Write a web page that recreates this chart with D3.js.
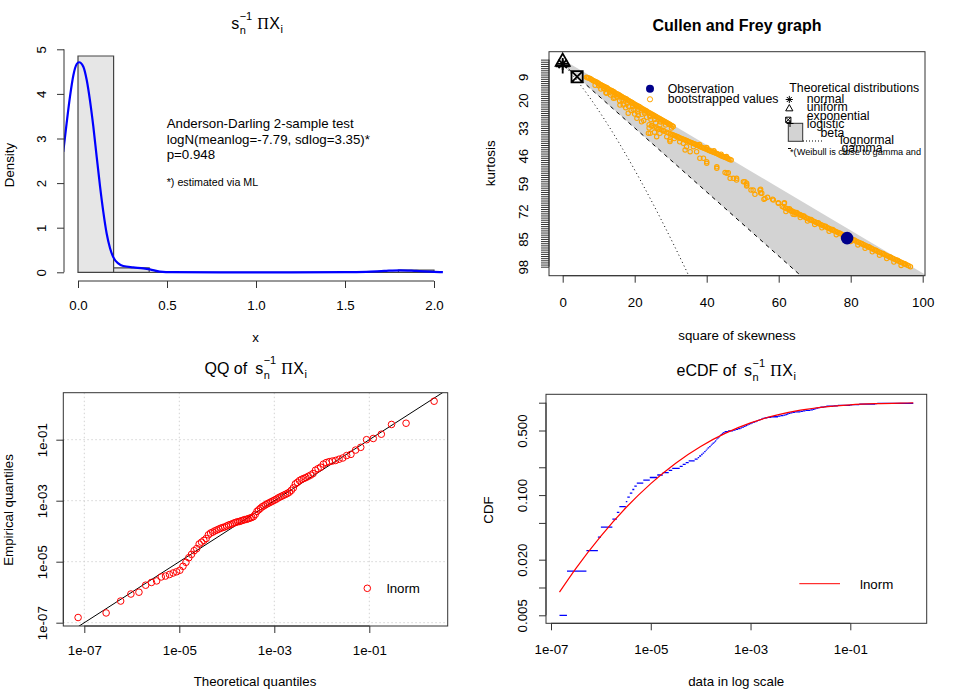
<!DOCTYPE html>
<html><head><meta charset="utf-8">
<script src="https://d3js.org/d3.v7.min.js"></script>
<style>body{margin:0;background:#fff}svg{display:block}</style>
</head><body>
<svg id="c" width="960" height="690"></svg>
<script>
// ================= DATA =================
// Panel 1: histogram + kernel density
const histBreaks = [0,0.2,0.4,0.6,0.8,1.0,1.2,1.4,1.6,1.8,2.0];
const histDensity = [4.85,0.10,0,0,0,0,0,0,0,0.05];
const densX = [-0.083,-0.064,-0.045,-0.026,-0.007,0.006,0.03,0.049,0.067,0.086,0.105,0.124,0.142,0.161,0.18,0.198,0.226,0.254,0.31,0.367,0.404,0.46,0.53,0.8,1.2,1.5,1.62,1.72,1.81,1.90,2.0,2.05];
const densY = [2.70,3.34,3.94,4.42,4.67,4.71,4.61,4.31,3.86,3.27,2.59,1.92,1.36,0.87,0.54,0.34,0.20,0.14,0.11,0.09,0.067,0.015,0.002,0,0,0.002,0.01,0.03,0.045,0.03,0.01,0.003];
const histXTicks = [0,0.5,1,1.5,2];
const histXLabels = ["0.0","0.5","1.0","1.5","2.0"];
const histYTicks = [0,1,2,3,4,5];
const gofLines = ["Anderson-Darling 2-sample test","logN(meanlog=-7.79, sdlog=3.35)*","p=0.948"];
const gofNote = "*) estimated via ML";

// Panel 2: Cullen and Frey
const cfXTicks = [0,20,40,60,80,100];
const cfYLabels = [9,20,33,46,59,72,85,98];
const cfYTickMin = 1, cfYTickMax = 98;
const obsPoint = [79.0, 84.6];
const normalPt = [0,3], uniformPt = [0,1.8], exponentialPt = [4,9], logisticPt = [0,4.2];
const betaLowerLine = [[0,1],[120,121]];
const gammaLine = [[0,3],[120,183]];
const lognormalLine = [[0,3],[0.465,3.838],[0.961,4.756],[2.048,6.85],[4.624,12.21],[7.776,19.43],[11.55,28.88],[16,41],[21.17,56.25],[27.10,75.11],[33.86,98.13],[36.05,105.9]];
const bootPoints = [
// upper streak
[6.6,9.3],[7.2,9.6],[7.9,10.2],[8.5,10.9],[9.1,11.3],[9.8,11.9],[10.4,12.6],[11.0,13.1],[11.7,13.8],[12.3,14.2],[12.9,15.0],[13.6,15.5],[14.2,16.1],[14.8,16.9],[15.5,17.3],[16.1,18.0],[16.7,18.7],[17.4,19.2],[18.0,19.9],[18.6,20.5],[19.3,21.1],[19.9,21.8],[20.5,22.4],[21.2,23.0],[21.8,23.7],[22.4,24.3],[23.1,24.9],[23.7,25.6],[24.3,26.1],[25.0,26.8],[25.6,27.4],[26.2,28.0],[26.9,28.6],[27.5,29.2],[28.1,29.8],[28.8,30.4],[29.4,31.0],[30.0,31.6],[30.7,32.3],
[6.9,9.5],[7.6,9.9],[8.2,10.6],[8.8,11.1],[9.5,11.6],[10.1,12.3],[10.7,12.9],[11.4,13.5],[12.0,14.0],[12.6,14.6],[13.3,15.3],[13.9,15.8],[14.5,16.5],[15.2,17.1],[15.8,17.7],[16.4,18.3],[17.1,19.0],[17.7,19.5],[18.3,20.2],[19.0,20.8],[19.6,21.5],[20.2,22.1],[20.9,22.7],[21.5,23.3],[22.1,24.0],[22.8,24.6],[23.4,25.2],[24.0,25.9],[24.7,26.5],[25.3,27.1],[25.9,27.7],[26.6,28.3],[27.2,28.9],[27.8,29.5],[28.5,30.1],[29.1,30.7],[29.7,31.3],[30.4,32.0],
[10.0,13.2],[11.5,14.6],[13.0,16.3],[14.0,17.5],[15.0,18.4],[16.5,19.8],[18.0,21.4],[19.5,23.0],[21.0,24.4],[22.7,26.0],[24.2,27.6],[25.5,29.0],[27.2,30.2],[28.6,31.6],[30.2,33.0],
[9.0,13.0],[10.6,14.8],[12.0,16.5],[13.3,17.6],[14.5,19.0],[15.8,20.3],[17.0,21.8],[18.3,22.9],[19.6,24.3],[20.8,25.5],[22.0,26.6],[23.3,28.0],[24.5,29.1],[25.8,30.6],[27.0,31.6],
// scattered
[11.3,14.4],[12.2,16.8],[14.1,19.1],[15.9,22.3],[16.8,22.3],[18.2,26.1],[20.6,28.5],[21.9,30.1],[23.8,35.5],[24.3,35.5],[26.1,37.1],[27.0,35.5],[28.9,37.1],[29.8,38.6],[29.8,39.4],[33.5,40.2],[34.0,43.3],[34.4,41.8],[35.4,44.1],[36.3,41.8],[37.2,44.1],[38.1,47.2],[39.1,47.2],[40.0,48.8],[40.0,49.6],[42.8,51.2],[42.8,51.9],[45.6,54.2],[46.5,56.6],[47.4,56.6],[48.3,57.4],[50.6,58.2],[51.1,58.9],[51.1,59.7],[52.9,62.1],[54.8,62.1],[55.3,63.6],[56.2,66.0],[58.5,66.8],[59.9,68.3],[61.5,68.3],
[45.1,53.9],[46.0,54.0],[48.3,56.6],[50.2,58.2],[51.1,60.2],[52.3,62.1],[53.4,64.1],[55.0,61.7],[55.0,63.5],[55.9,66.4],[56.9,65.5],[58.3,66.4],[59.9,68.0],[61.6,68.0],
[17.5,23.5],[19.0,24.8],[21.0,27.0],[22.5,29.5],[24.8,31.8],[26.5,33.5],[28.0,34.2],[31.0,38.0],[32.5,39.5],[24.0,33.0],[20.0,26.5],[25.5,35.0],
// middle streak
[24.0,31.5],[24.7,32.1],[25.4,32.6],[26.1,33.0],[26.8,33.5],[27.5,34.0],[28.2,34.5],[28.9,35.0],[29.5,35.4],
[30.0,35.8],[30.7,36.3],[31.4,36.8],[32.1,37.3],[32.8,37.8],[33.5,38.3],[34.2,38.8],[34.9,39.3],[35.6,39.8],[36.3,40.3],[37.0,40.8],[37.7,41.4],[38.4,41.9],[39.1,42.4],[39.8,42.9],[40.5,43.4],[41.2,43.9],[41.9,44.4],[42.6,44.9],[43.3,45.4],[44.0,46.0],[44.7,46.5],[45.4,47.0],[46.1,47.5],[46.8,48.0],
[30.35,36.05],[31.05,36.55],[31.75,37.05],[32.45,37.55],[33.15,38.05],[33.85,38.55],[34.55,39.05],[35.25,39.55],[35.95,40.05],[36.65,40.55],[37.35,41.1],[38.05,41.65],[38.75,42.15],[39.45,42.65],[40.15,43.15],[40.85,43.65],[41.55,44.15],[42.25,44.65],[42.95,45.15],[43.65,45.7],[44.35,46.25],[45.05,46.75],[45.75,47.25],[46.45,47.75],
[38.0,40.8],[40.0,42.2],[42.0,43.7],[44.0,45.3],[45.5,46.4],
// lower streak
[61.0,69.8],[61.9,70.5],[62.8,71.2],[63.7,71.9],[64.6,72.6],[65.5,73.3],[66.4,74.0],[67.3,74.8],[68.2,75.5],[69.1,76.2],[70.0,76.9],[70.9,77.6],[71.8,78.3],[72.7,79.0],[73.6,79.7],[74.5,80.5],[75.4,81.2],[76.3,81.9],[77.2,82.6],[78.1,83.3],[79.0,84.0],[79.9,84.8],[80.8,85.5],[81.7,86.2],[82.6,86.9],[83.5,87.6],[84.4,88.3],[85.3,89.0],[86.2,89.8],[87.1,90.5],[88.0,91.2],[88.9,91.9],[89.8,92.6],[90.7,93.3],[91.6,94.0],[92.5,94.8],[93.4,95.5],[94.3,96.2],[95.2,96.9],[96.1,97.6],[96.6,98.0],
[61.45,70.15],[62.35,70.85],[63.25,71.55],[64.15,72.25],[65.05,72.95],[65.95,73.65],[66.85,74.4],[67.75,75.15],[68.65,75.85],[69.55,76.55],[70.45,77.25],[71.35,77.95],[72.25,78.65],[73.15,79.35],[74.05,80.1],[74.95,80.85],[75.85,81.55],[76.75,82.25],[77.65,82.95],[78.55,83.65],[79.45,84.4],[80.35,85.15],[81.25,85.85],[82.15,86.55],[83.05,87.25],[83.95,87.95],[84.85,88.65],[85.75,89.4],[86.65,90.15],[87.55,90.85],[88.45,91.55],[89.35,92.25],[90.25,92.95],[91.15,93.65],[92.05,94.4],[92.95,95.15],[93.85,95.85],[94.75,96.55],[95.65,97.25],
[63.0,70.8],[65.0,72.6],[67.0,74.2],[69.0,75.9],[71.0,77.4],[73.0,79.1],[75.0,80.6],[77.0,82.3],[81.0,85.5],[83.0,87.1],[85.0,88.6],[87.0,90.3],[89.0,91.8],[91.0,93.5],[93.0,95.0],[95.0,96.6],
[64.0,73.4],[66.0,75.0],[68.0,76.6],[70.0,78.2],[72.0,79.8],[74.0,81.4],[76.0,83.0],[78.0,84.6],[80.0,86.2],[82.0,87.8],[84.0,89.4],[86.0,91.0],[88.0,92.6],[90.0,94.2],[92.0,95.8],[94.0,97.4],
[62.0,72.2],[63.5,72.0],[64.5,73.6],[66.0,73.8]
];

// Panel 3 & 4: sample (log10 of sorted values) and lognormal theoretical quantiles (log10)
const sampleLog10 = [
-6.83,-6.68,-6.29,-6.06,-6.00,-5.77,-5.68,-5.63,-5.50,-5.47,
-5.42,-5.37,-5.33,-5.28,-5.15,-5.02,-4.87,-4.76,-4.64,-4.57,
-4.42,-4.36,-4.30,-4.24,-4.12,-4.06,-4.03,-3.99,-3.96,-3.93,
-3.90,-3.88,-3.86,-3.83,-3.80,-3.78,-3.76,-3.73,-3.71,-3.69,
-3.68,-3.66,-3.64,-3.62,-3.61,-3.59,-3.57,-3.55,-3.52,-3.45,
-3.35,-3.30,-3.25,-3.20,-3.17,-3.13,-3.10,-3.07,-3.04,-3.01,
-2.98,-2.95,-2.91,-2.88,-2.85,-2.82,-2.79,-2.76,-2.72,-2.66,
-2.58,-2.45,-2.40,-2.34,-2.30,-2.27,-2.24,-2.20,-2.16,-2.11,
-2.00,-1.95,-1.90,-1.80,-1.75,-1.72,-1.70,-1.68,-1.64,-1.60,
-1.52,-1.48,-1.34,-1.25,-1.00,-0.96,-0.82,-0.50,-0.46,0.262];
const theoLog10 = [
-7.1307,-6.5404,-6.2348,-6.0193,-5.8498,-5.7084,-5.5861,-5.4775,-5.3796,-5.2900,
-5.2071,-5.1296,-5.0568,-4.9881,-4.9226,-4.8602,-4.8004,-4.7429,-4.6875,-4.6338,
-4.5819,-4.5314,-4.4822,-4.4344,-4.3875,-4.3417,-4.2969,-4.2529,-4.2097,-4.1671,
-4.1253,-4.0840,-4.0434,-4.0031,-3.9636,-3.9243,-3.8853,-3.8467,-3.8086,-3.7706,
-3.7330,-3.6956,-3.6583,-3.6214,-3.5844,-3.5476,-3.5109,-3.4744,-3.4379,-3.4014,
-3.3650,-3.3285,-3.2920,-3.2555,-3.2188,-3.1820,-3.1450,-3.1081,-3.0708,-3.0334,
-2.9958,-2.9578,-2.9197,-2.8811,-2.8421,-2.8028,-2.7633,-2.7230,-2.6824,-2.6411,
-2.5993,-2.5567,-2.5135,-2.4695,-2.4247,-2.3789,-2.3320,-2.2842,-2.2350,-2.1845,
-2.1326,-2.0789,-2.0235,-1.9660,-1.9062,-1.8438,-1.7783,-1.7096,-1.6368,-1.5593,
-1.4764,-1.3868,-1.2889,-1.1803,-1.0580,-0.9166,-0.7471,-0.5316,-0.2260,0.3643];
const logTicks = [1e-7,1e-5,1e-3,1e-1];
const logTickLabels = ["1e-07","1e-05","1e-03","1e-01"];
const refLine = [1e-8, 1e1];

// Panel 4: fitted lognormal CDF (log10 x, probability)
const cdfFitLog10 = [-6.83,-6.5,-6,-5.5,-5,-4.5,-4,-3.5,-3,-2.5,-2,-1.5,-1,-0.5,0,0.262];
const cdfFitP = [0.0089,0.0161,0.0360,0.0729,0.1332,0.2214,0.3358,0.4680,0.6039,0.7281,0.8292,0.9022,0.9493,0.9763,0.9900,0.9939];
const cdfYTicks = [0.005,0.01,0.02,0.05,0.1,0.2,0.5,1];
const cdfYLabels = ["0.005","","0.020","","0.100","","0.500",""];

// ================= DRAW =================
const SANS = "'Liberation Sans', Arial, Helvetica, sans-serif";
const SERIF = "'Liberation Serif', 'DejaVu Serif', serif";
const AX = "#333";
const svg = d3.select("#c");
const defs = svg.append("defs");
function clipRect(id,x,y,w,h){defs.append("clipPath").attr("id",id).append("rect").attr("x",x).attr("y",y).attr("width",w).attr("height",h);}

function axisB(scale, ticks, labels, y0, baseOff){
  const a = svg.append("g").attr("transform",`translate(0,${y0})`)
    .call(d3.axisBottom(scale).tickValues(ticks).tickFormat((d,i)=>labels[i]).tickSize(7).tickSizeOuter(0));
  a.select(".domain").remove();
  a.attr("font-family",SANS).attr("font-size",13.3);
  a.selectAll(".tick line").attr("stroke",AX);
  a.selectAll(".tick text").attr("y",baseOff).attr("dy",0).attr("fill","#000");
  a.append("line").attr("x1",scale(ticks[0])).attr("x2",scale(ticks[ticks.length-1])).attr("stroke",AX);
}
function axisL(scale, ticks, fmt, x0, baseOff, tlen){
  const a = svg.append("g").attr("transform",`translate(${x0},0)`)
    .call(d3.axisLeft(scale).tickValues(ticks).tickFormat(fmt).tickSize(tlen||7).tickSizeOuter(0));
  a.select(".domain").remove();
  a.attr("font-family",SANS).attr("font-size",13.3);
  a.selectAll(".tick line").attr("stroke",AX);
  a.selectAll(".tick text").attr("x",0).attr("dy",0).attr("text-anchor","middle").attr("fill","#000")
    .attr("transform",`translate(${-baseOff},0) rotate(-90)`);
  a.append("line").attr("y1",scale(ticks[0])).attr("y2",scale(ticks[ticks.length-1])).attr("stroke",AX);
}
function label(x,y,txt,opt){
  opt=opt||{};
  const t = svg.append("text").attr("font-family",SANS).attr("font-size",opt.size||13.3)
    .attr("fill",opt.fill||"#000").attr("text-anchor",opt.anchor||"middle").text(txt);
  if(opt.bold) t.attr("font-weight","bold");
  if(opt.rot) t.attr("transform",`translate(${x},${y}) rotate(-90)`); else t.attr("x",x).attr("y",y);
  return t;
}
function mathTitle(cx, by, prefix){
  const g = svg.append("g").attr("font-family",SANS).attr("fill","#000");
  let x = 0;
  const add = (txt,size,dy,fam)=>g.append("text").attr("x",x).attr("y",by+dy).attr("font-size",size).attr("font-family",fam||SANS).text(txt);
  if(prefix){ const t=add(prefix,16,0); x += t.node().getComputedTextLength()+8; }
  const s=add("s",16,0); x += s.node().getComputedTextLength()+0.5;
  const sup=add("\u22121",11,-9.3), sub=add("n",11,5);
  x += Math.max(sup.node().getComputedTextLength(), sub.node().getComputedTextLength())+5;
  const P=add("\u03A0",16,0,SERIF); x += P.node().getComputedTextLength()+0.5;
  const X=add("X",16,0); x += X.node().getComputedTextLength()+0.5;
  const i=add("i",11,4); x += i.node().getComputedTextLength();
  g.attr("transform",`translate(${cx-x/2},0)`);
}

// ---------- Panel 1 ----------
{
  const x = d3.scaleLinear().domain([0,2]).range([78,434]);
  const y = d3.scaleLinear().domain([0,5]).range([272.3,49.3]);
  clipRect("clip1",64,40,379,241);
  const pg = svg.append("g").attr("clip-path","url(#clip1)");
  pg.selectAll("path.bar").data(histDensity).join("path")
    .attr("d",(d,i)=>`M${x(histBreaks[i])},${y(0)}V${y(d)}H${x(histBreaks[i+1])}V${y(0)}Z`)
    .attr("fill","#e6e6e6").attr("stroke","#444").attr("stroke-width",1.2);
  const line = d3.line().x(d=>x(d[0])).y(d=>y(d[1])).curve(d3.curveMonotoneX);
  pg.append("path").attr("d",line(densX.map((v,i)=>[v,densY[i]])))
    .attr("fill","none").attr("stroke","#0000ff").attr("stroke-width",2.2);
  axisB(x,histXTicks,histXLabels,281,29);
  axisL(y,histYTicks,d=>d,64,18.5);
  gofLines.forEach((t,i)=>label(166.7,128+i*15.5,t,{anchor:"start"}));
  label(166.7,186,gofNote,{anchor:"start",size:10.7});
  label(255.5,341.7,"x");
  label(13.5,165,"Density",{rot:true});
  mathTitle(257,29.3,"");
}

// ---------- Panel 2 ----------
{
  const x = d3.scaleLinear().domain([0,100]).range([562.7,922.7]);
  const y = d3.scaleLinear().domain([9,98]).range([76.7,266.7]);
  clipRect("clip2",549,51.7,376,224);
  const pg = svg.append("g").attr("clip-path","url(#clip2)");
  const poly = [betaLowerLine[0],betaLowerLine[1],gammaLine[1],gammaLine[0]];
  pg.append("path").attr("d","M"+poly.map(p=>[x(p[0]),y(p[1])].join(",")).join("L")+"Z").attr("fill","#d3d3d3");
  const line = d3.line().x(d=>x(d[0])).y(d=>y(d[1]));
  pg.append("path").attr("d",line(gammaLine)).attr("fill","none").attr("stroke","#000").attr("stroke-dasharray","4,4");
  pg.append("path").attr("d",d3.line().x(d=>x(d[0])).y(d=>y(d[1])).curve(d3.curveMonotoneX)(lognormalLine))
    .attr("fill","none").attr("stroke","#000").attr("stroke-dasharray","1,3");
  pg.selectAll("circle.boot").data(bootPoints).join("circle")
    .attr("cx",d=>x(d[0])).attr("cy",d=>y(d[1])).attr("r",2.2)
    .attr("fill","none").attr("stroke","#ffa500").attr("stroke-width",1.1);
  // theoretical points
  const sym = svg.append("g").attr("stroke","#000").attr("fill","none").attr("stroke-width",1.8);
  const star = (g,cx,cy,r)=>{ g.append("path").attr("d",`M${cx-r},${cy}H${cx+r}M${cx},${cy-r}V${cy+r}M${cx-r*0.7},${cy-r*0.7}L${cx+r*0.7},${cy+r*0.7}M${cx-r*0.7},${cy+r*0.7}L${cx+r*0.7},${cy-r*0.7}`); };
  const tri = (g,cx,cy,r)=>{ g.append("path").attr("d",`M${cx},${cy-r*1.1}L${cx+r},${cy+r*0.65}L${cx-r},${cy+r*0.65}Z`); };
  const plus = (g,cx,cy,r)=>{ g.append("path").attr("d",`M${cx-r},${cy}H${cx+r}M${cx},${cy-r}V${cy+r}`); };
  const sqx = (g,cx,cy,r)=>{ g.append("path").attr("d",`M${cx-r},${cy-r}H${cx+r}V${cy+r}H${cx-r}ZM${cx-r},${cy-r}L${cx+r},${cy+r}M${cx-r},${cy+r}L${cx+r},${cy-r}`); };
  star(sym,x(normalPt[0]),y(normalPt[1]),6);
  tri(sym,x(uniformPt[0]),y(uniformPt[1]),7);
  plus(sym,x(logisticPt[0]),y(logisticPt[1]),7);
  sqx(sym,x(exponentialPt[0]),y(exponentialPt[1]),5.6);
  svg.append("circle").attr("cx",x(obsPoint[0])).attr("cy",y(obsPoint[1])).attr("r",6.3).attr("fill","#00008b");
  // box + axes
  svg.append("rect").attr("x",549).attr("y",51.7).attr("width",376).attr("height",224).attr("fill","none").attr("stroke",AX);
  axisB(x,cfXTicks,cfXTicks.map(String),275.7,31.6);
  axisL(y,d3.range(cfYTickMin,cfYTickMax+1),d=>cfYLabels.includes(d)?String(d):"",549,20.7,8);
  label(737,31,"Cullen and Frey graph",{bold:true,size:16});
  label(737,340,"square of skewness");
  label(494.7,163.3,"kurtosis",{rot:true});
  // legend
  const L = svg.append("g").attr("font-family",SANS).attr("font-size",12.3).attr("fill","#000");
  L.append("circle").attr("cx",650).attr("cy",88.7).attr("r",4).attr("fill","#00008b");
  L.append("circle").attr("cx",650).attr("cy",99.3).attr("r",2.6).attr("fill","none").attr("stroke","#ffa500");
  L.append("text").attr("x",667.7).attr("y",93.3).text("Observation");
  L.append("text").attr("x",667.7).attr("y",103).text("bootstrapped values");
  L.append("text").attr("x",789.3).attr("y",91.5).text("Theoretical distributions");
  L.append("text").attr("x",806.7).attr("y",103.3).text("normal");
  L.append("text").attr("x",806.7).attr("y",111.4).text("uniform");
  L.append("text").attr("x",806.7).attr("y",119.5).text("exponential");
  L.append("text").attr("x",806.7).attr("y",127.5).text("logistic");
  L.append("rect").attr("x",788.3).attr("y",123.3).attr("width",14.4).attr("height",18).attr("fill","#d3d3d3").attr("stroke","#333");
  L.append("text").attr("x",820.5).attr("y",136.5).text("beta");
  L.append("line").attr("x1",803).attr("x2",823).attr("y1",141).attr("y2",141).attr("stroke","#000").attr("stroke-dasharray","1,2");
  L.append("text").attr("x",840).attr("y",144).text("lognormal");
  L.append("text").attr("x",841.5).attr("y",151.5).text("gamma");
  L.append("line").attr("x1",788).attr("x2",791).attr("y1",148.5).attr("y2",148.5).attr("stroke","#000");
  L.append("text").attr("x",790).attr("y",154.5).attr("font-size",9.2).text("*(Weibull is close to gamma and");
  const ls = L.append("g").attr("stroke","#000").attr("fill","none").attr("stroke-width",1);
  star(ls,789.3,99.5,3.6); tri(ls,789.3,108.5,3.6); plus(ls,790,123.5,3.5);
  sqx(ls,788.3,119.8,2.6);
}

// ---------- Panel 3 (QQ) ----------
{
  const x = d3.scaleLog().domain([1e-7,1e-1]).range([84.3,369.3]);
  const y = d3.scaleLog().domain([1e-7,1e-1]).range([622.7,439.7]);
  const bx0=63.3,bx1=447.7,by0=392.7,by1=626;
  clipRect("clip3",bx0,by0,bx1-bx0,by1-by0);
  const pg = svg.append("g").attr("clip-path","url(#clip3)");
  logTicks.forEach(t=>{
    pg.append("line").attr("x1",x(t)).attr("x2",x(t)).attr("y1",by0).attr("y2",by1).attr("stroke","#d3d3d3").attr("stroke-dasharray","1.5,2.5");
    pg.append("line").attr("y1",y(t)).attr("y2",y(t)).attr("x1",bx0).attr("x2",bx1).attr("stroke","#d3d3d3").attr("stroke-dasharray","1.5,2.5");
  });
  pg.append("line").attr("x1",x(refLine[0])).attr("y1",y(refLine[0])).attr("x2",x(refLine[1])).attr("y2",y(refLine[1])).attr("stroke","#000");
  pg.selectAll("circle.qq").data(sampleLog10).join("circle")
    .attr("cx",(d,i)=>x(Math.pow(10,theoLog10[i]))).attr("cy",d=>y(Math.pow(10,d))).attr("r",3.3)
    .attr("fill","none").attr("stroke","#ff0000");
  svg.append("rect").attr("x",bx0).attr("y",by0).attr("width",bx1-bx0).attr("height",by1-by0).attr("fill","none").attr("stroke",AX);
  axisB(x,logTicks,logTickLabels,by1,29);
  axisL(y,logTicks,(d,i)=>logTickLabels[i],bx0,16.6);
  svg.append("circle").attr("cx",367.3).attr("cy",588.3).attr("r",3.3).attr("fill","none").attr("stroke","#ff0000");
  label(386.7,592.5,"lnorm",{anchor:"start"});
  label(255,686,"Theoretical quantiles");
  label(12.5,510,"Empirical quantiles",{rot:true});
  mathTitle(255.7,373.5,"QQ of");
}

// ---------- Panel 4 (eCDF) ----------
{
  const x = d3.scaleLog().domain([1e-7,1e-1]).range([551,850.3]);
  const y = d3.scaleLog().domain([0.005,1]).range([615.3,402.7]);
  const bx0=546,bx1=926.7,by0=394.3,by1=623.3;
  clipRect("clip4",bx0,by0,bx1-bx0,by1-by0);
  const pg = svg.append("g").attr("clip-path","url(#clip4)");
  const n = sampleLog10.length;
  const steps = sampleLog10.slice(0,n-1).map((v,i)=>({x0:Math.pow(10,v),x1:Math.pow(10,sampleLog10[i+1]),p:(i+0.5)/n}));
  pg.selectAll("line.step").data(steps).join("line")
    .attr("x1",d=>x(d.x0)).attr("x2",d=>x(d.x1)).attr("y1",d=>y(d.p)).attr("y2",d=>y(d.p))
    .attr("stroke","#0000ff").attr("stroke-width",1.3);
  const line = d3.line().x(d=>x(Math.pow(10,d[0]))).y(d=>y(d[1])).curve(d3.curveMonotoneX);
  pg.append("path").attr("d",line(cdfFitLog10.map((v,i)=>[v,cdfFitP[i]])))
    .attr("fill","none").attr("stroke","#ff0000").attr("stroke-width",1.2);
  svg.append("rect").attr("x",bx0).attr("y",by0).attr("width",bx1-bx0).attr("height",by1-by0).attr("fill","none").attr("stroke",AX);
  axisB(x,logTicks,logTickLabels,by1,31);
  axisL(y,cdfYTicks,(d,i)=>cdfYLabels[i],bx0,19);
  svg.append("line").attr("x1",799.3).attr("x2",840).attr("y1",583.7).attr("y2",583.7).attr("stroke","#ff0000");
  label(860,589,"lnorm",{anchor:"start"});
  label(736.2,686,"data in log scale");
  label(493.3,510,"CDF",{rot:true});
  mathTitle(736.2,376,"eCDF of");
}
</script>
</body></html>
